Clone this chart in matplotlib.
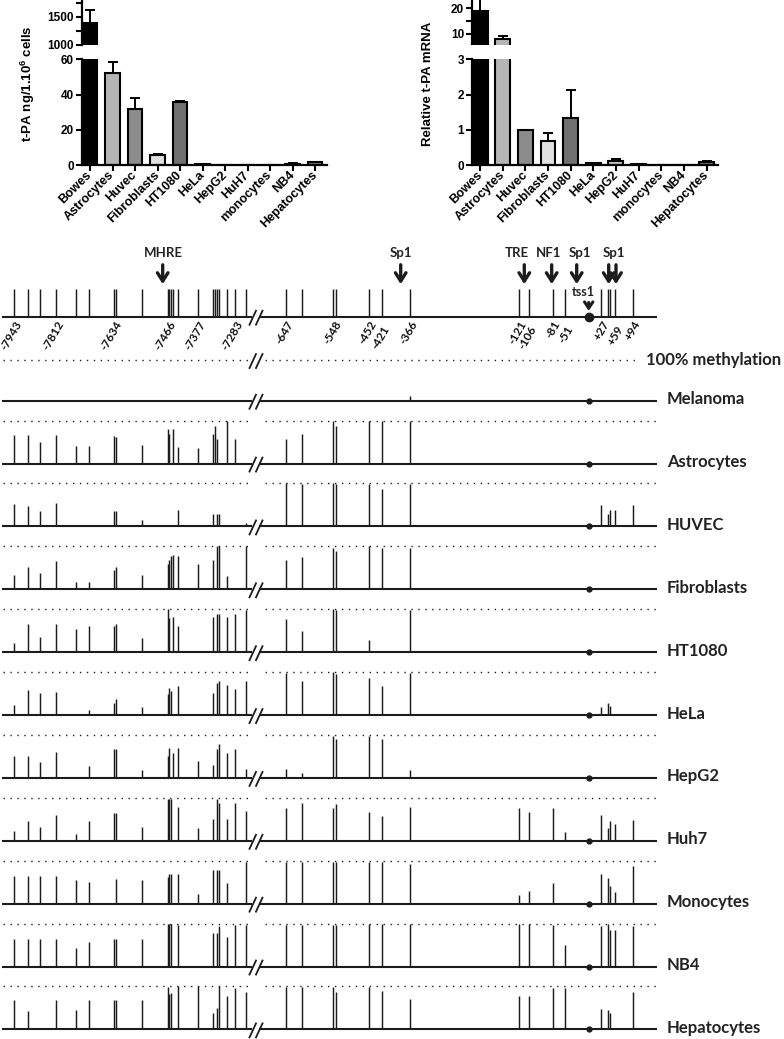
import matplotlib
matplotlib.use("Agg")
import matplotlib.pyplot as plt
import numpy as np

W, H = 784, 1039
INK = "#1c1c1c"

plt.rcParams["font.family"] = ["Liberation Sans", "DejaVu Sans"]
plt.rcParams["mathtext.fontset"] = "custom"
plt.rcParams["mathtext.bf"] = "Liberation Sans:bold"
plt.rcParams["mathtext.default"] = "bf"

# ---- bar chart data (top panels) ----
cell_lines = ["Bowes", "Astrocytes", "Huvec", "Fibroblasts", "HT1080", "HeLa",
              "HepG2", "HuH7", "monocytes", "NB4", "Hepatocytes"]
protein = [1390, 52.4, 31.6, 5.7, 36.0, 0.5, 0.0, 0.0, 0.0, 0.8, 1.5]
protein_err = [230, 6.3, 6.3, 0.6, 0.5, 0.2, 0, 0, 0, 0.2, 0.3]
mrna = [19.1, 8.1, 1.0, 0.67, 1.33, 0.05, 0.12, 0.02, 0.0, 0.0, 0.08]
mrna_err = [4.5, 1.0, 0.0, 0.25, 0.8, 0.02, 0.06, 0.0, 0.0, 0.0, 0.03]
bar_colors = ["#000000", "#b5b5b5", "#8c8c8c", "#e0e0e0", "#707070", "#a0a0a0",
              "#c8c8c8", "#ffffff", "#ffffff", "#909090", "#808080"]

# ---- CpG map data ----
# schematic x position of every CpG site (left block | right block)
site_x = np.array([14.3, 27.7, 40, 56, 76, 89.3, 113.7, 116.3, 142.3, 167.7, 169.3,
                   171, 172.7, 177.7, 198, 213.3, 215.3, 217, 218.7, 226.7, 235.3, 245.7,
                   286, 301.7, 333.3, 336, 369, 381.7, 410, 518.7, 528.7, 552.7, 565,
                   601, 607.7, 609.7, 615.3, 632.7])
tss_x = 588.7
pos_labels = ["-7943", "-7812", "-7634", "-7466", "-7377", "-7283", "-647", "-548",
              "-452", "-421", "-366", "-121", "-106", "-81", "-51", "+27", "+59", "+94"]
pos_label_sites = [0, 3, 6, 9, 14, 20, 22, 24, 26, 27, 28, 29, 30, 31, 32, 33, 36, 37]
motif_arrows = [162.7, 400.7, 524.3, 551.7, 576.7, 608.7, 616.0]
motif_names = ["MHRE", "Sp1", "TRE", "NF1", "Sp1", "Sp1"]
motif_name_x = [163.8, 400.5, 517, 549, 580, 614]

row_names = ["Melanoma", "Astrocytes", "HUVEC", "Fibroblasts", "HT1080", "HeLa",
             "HepG2", "Huh7", "Monocytes", "NB4", "Hepatocytes"]

# methylation fraction per site (0..1)
meth_melanoma = [0] * 28 + [0.1] + [0] * 9
meth_astrocytes = [0.66, 0.66, 0.51, 0.66, 0.40, 0.40, 0.64, 0.61, 0.43, 0.80, 0.69,
                   0, 0.80, 0.39, 0.37, 0.68, 0.87, 0.58, 0, 0.98, 0.58, 0,
                   0.58, 0.69, 1.0, 0.87, 1.0, 1.0, 1.0, 0, 0, 0, 0, 0, 0, 0, 0, 0]
meth_huvec = [0.53, 0.48, 0.37, 0.54, 0, 0, 0.35, 0.35, 0.14, 0, 0,
              0, 0, 0.39, 0, 0.29, 0, 0.30, 0.28, 0, 0, 0.07,
              1.0, 0.98, 1.0, 0.98, 0.98, 0.88, 0.98, 0, 0, 0, 0, 0.49, 0.30, 0.38, 0.39, 0.49]
meth_fibroblasts = [0.33, 0.51, 0.39, 0.65, 0.18, 0.18, 0.44, 0.53, 0.33, 0.59, 0.68,
                    0.78, 0.80, 0.78, 0.59, 0.68, 0, 1.0, 1.0, 0.30, 0, 1.0,
                    0.68, 0.76, 0.95, 0.90, 1.0, 0.97, 0.97, 0, 0, 0, 0, 0, 0, 0, 0, 0]
meth_ht1080 = [0.22, 0.66, 0.36, 0.66, 0.55, 0.62, 0.62, 0.66, 0.33, 1.0, 0.80,
               0, 0.81, 0.62, 0, 0.81, 0, 0.89, 0.89, 0.81, 0.89, 0.98,
               0.78, 0.50, 1.0, 0.98, 0.29, 0, 0.98, 0, 0, 0, 0, 0, 0, 0, 0, 0]
meth_hela = [0.24, 0.58, 0.52, 0.54, 0, 0.12, 0.29, 0.38, 0.18, 0.50, 0.64,
             0.56, 0, 0.68, 0, 0.51, 0, 0.74, 0.79, 0.70, 0.60, 0.79,
             0.97, 0.79, 1.0, 0.96, 0.87, 0.68, 0.98, 0, 0, 0, 0, 0.19, 0.29, 0.21, 0, 0]
meth_hepg2 = [0.51, 0.51, 0.38, 0.60, 0, 0.28, 0.67, 0.67, 0.19, 0.50, 0.70,
              0, 0.59, 0.70, 0.39, 0.30, 0, 0.68, 0.80, 0.59, 0.68, 0.21,
              0.21, 0.11, 0.98, 0.90, 0.98, 0.90, 0.19, 0, 0, 0, 0, 0, 0, 0, 0, 0]
meth_huh7 = [0.22, 0.46, 0.33, 0.59, 0.16, 0.45, 0.65, 0.65, 0.31, 0.98, 0.98,
             0.98, 0, 0.79, 0.29, 0.50, 0, 0.97, 0.89, 0.50, 0.88, 0.69,
             0.76, 0.87, 0.76, 0.86, 0.68, 0.58, 0.79, 0.77, 0.68, 0.77, 0.20,
             0.59, 0.29, 0.47, 0.38, 0.49]
meth_monocytes = [0.64, 0.64, 0.64, 0.64, 0.55, 0.50, 0, 0.58, 0.55, 0.61, 0.70,
                  0.70, 0, 0.70, 0.22, 0.79, 0, 0.79, 0.79, 0.48, 0, 0.98,
                  0.97, 0.97, 0.97, 0.97, 0.98, 0.98, 0.92, 0.20, 0.30, 0.49, 0,
                  0.70, 0.60, 0.41, 0.28, 0.88]
meth_nb4 = [0.63, 0.63, 0.63, 0.63, 0.42, 0.56, 0.63, 0.63, 0.63, 0.99, 0.99,
            0.99, 0, 0.96, 0, 0.78, 0, 0.78, 0.94, 0.68, 0.96, 0.97,
            0.97, 0.97, 0.97, 0.97, 0.99, 0.99, 0.99, 0.99, 0.99, 0.96, 0.50,
            0.95, 1.0, 0.86, 0.86, 0.94]
meth_hepatocytes = [0.68, 0.42, 0, 0.68, 0.45, 0.68, 0.68, 0.68, 0.68, 0.98, 0.82,
                    0.85, 0, 1.0, 1.0, 0.38, 0, 0.49, 1.0, 0.78, 0.97, 0.86,
                    0.98, 0.98, 0.98, 0.86, 0.98, 0.89, 0.70, 0.78, 0.78, 0.97, 0.97,
                    0.48, 0.46, 0.38, 0, 0.88]

meth_rows = [meth_melanoma, meth_astrocytes, meth_huvec, meth_fibroblasts, meth_ht1080,
             meth_hela, meth_hepg2, meth_huh7, meth_monocytes, meth_nb4, meth_hepatocytes]


def px_rect(l, t, r, b):
    return [l / W, 1 - b / H, (r - l) / W, (b - t) / H]


fig = plt.figure(figsize=(W / 100, H / 100), dpi=100)

# ================= CpG methylation map =================
ax = fig.add_axes([0, 0, 1, 1], zorder=0)
ax.set_xlim(0, W)
ax.set_ylim(H, 0)
ax.axis("off")

MAP_FONT = ["Lato", "DejaVu Sans"]
BREAK_L, BREAK_R = 252, 259
LINE_END = 657
TICK_LW = 1.05


def slashes(y):
    for dx in (0, 6.5):
        ax.plot([249.5 + dx, 256 + dx], [y + 8, y - 6], color=INK, lw=1.3)


def axis_line(y):
    ax.plot([2, BREAK_L], [y, y], color=INK, lw=1.5, solid_capstyle="butt")
    ax.plot([BREAK_R, LINE_END], [y, y], color=INK, lw=1.5, solid_capstyle="butt")
    slashes(y)


def dotted(y, right=660, breaks=False):
    kw = dict(color=INK, lw=1.0, ls=(0, (1, 4)))
    ax.plot([3, BREAK_L], [y, y], **kw)
    ax.plot([265, right], [y, y], **kw)
    if breaks:
        slashes(y)


# schematic row
sch_y = 316.7
axis_line(sch_y)
ax.vlines(site_x, sch_y - 28, sch_y, color=INK, lw=TICK_LW)
ax.plot([tss_x], [sch_y], "o", color=INK, ms=6)
ax.annotate("", xy=(tss_x, sch_y - 3), xytext=(tss_x, sch_y - 17),
            arrowprops=dict(arrowstyle="->,head_length=0.45,head_width=0.3", lw=2.2, color=INK))
ax.text(tss_x - 5, 292.5, "tss1", ha="center", va="center", fontsize=9,
        fontweight="bold", family=MAP_FONT, color="#222222")

for x in motif_arrows:
    ax.annotate("", xy=(x, 287), xytext=(x, 262),
                arrowprops=dict(arrowstyle="->,head_length=0.6,head_width=0.38",
                                lw=2.4, color=INK))
for name, x in zip(motif_names, motif_name_x):
    ax.text(x, 253, name, ha="center", va="center", fontsize=9.5,
            fontweight="bold", family=MAP_FONT, color="#222222")

prev = -100
for lab, idx in zip(pos_labels, pos_label_sites):
    x = site_x[idx]
    drop = 5 if x - prev < 15 else 0
    ax.text(x + 10, 319 + drop, lab, rotation=60, ha="right", va="top",
            fontsize=8.6, fontweight="bold", family=MAP_FONT, color="#111111")
    prev = x

# 100% methylation reference
dotted(360, right=637, breaks=True)
ax.text(645.7, 360, "100% methylation", ha="left", va="center", fontsize=12,
        fontweight="bold", family=MAP_FONT, color="#222222")

row0, row_step, full = 400.7, 62.87, 43
for i, (name, vals) in enumerate(zip(row_names, meth_rows)):
    base = row0 + i * row_step
    vals = np.asarray(vals, dtype=float)
    if i > 0:
        dotted(base - full)
    axis_line(base)
    m = vals > 0
    ax.vlines(site_x[m], base - vals[m] * full, base, color=INK, lw=TICK_LW)
    ax.plot([tss_x], [base], "o", color=INK, ms=3.5)
    ax.text(666.7, base - 1.5, name, ha="left", va="center", fontsize=12,
            fontweight="bold", family=MAP_FONT, color="#222222")

# ================= bar charts =================
pos = np.arange(len(cell_lines))


def bar_panel(x0, x1, values, errors, hi_lim, hi_major, hi_minor, lo_lim, lo_major,
              ylabel, label_x):
    values = np.asarray(values, dtype=float)
    errors = np.asarray(errors, dtype=float)
    ax_hi = fig.add_axes(px_rect(x0, 0, x1, 44.5), zorder=2)
    ax_lo = fig.add_axes(px_rect(x0, 59.3, x1, 165), zorder=2)
    for a in (ax_hi, ax_lo):
        a.patch.set_alpha(0)
        e = errors > 0
        a.errorbar(pos[e], values[e], yerr=[np.zeros(e.sum()), errors[e]], fmt="none",
                   ecolor="black", elinewidth=1.4, capsize=3.6, capthick=1.4, zorder=1)
        a.bar(pos, values, width=0.66, color=bar_colors, edgecolor="black",
              linewidth=1.5, zorder=2)
        a.set_xlim(-0.37, 10.52)
        a.spines["top"].set_visible(False)
        a.spines["right"].set_visible(False)
        a.spines["left"].set_linewidth(1.6)
        a.spines["bottom"].set_linewidth(1.6)
        a.tick_params(axis="y", width=1.5, length=4, pad=1.5)
        a.tick_params(axis="y", which="minor", width=1.5, length=4)
    ax_hi.set_ylim(*hi_lim)
    ax_hi.spines["bottom"].set_visible(False)
    ax_hi.set_xticks([])
    ax_hi.set_yticks(hi_major)
    ax_hi.set_yticks(hi_minor, minor=True)
    ax_hi.set_yticklabels([str(v) for v in hi_major], fontweight="bold", fontsize=8.5)
    ax_lo.set_ylim(*lo_lim)
    ax_lo.set_yticks(lo_major)
    ax_lo.set_yticklabels([str(v) for v in lo_major], fontweight="bold", fontsize=8.5)
    ax_lo.set_xticks(pos)
    ax_lo.set_xticklabels(cell_lines, rotation=45, ha="right", va="center",
                          rotation_mode="anchor", fontsize=9, fontweight="bold")
    ax_lo.tick_params(axis="x", width=1.5, length=4, pad=2)
    fig.text(label_x / W, 1 - 84 / H, ylabel, rotation=90, ha="center", va="center",
             fontsize=9.5, fontweight="bold")


bar_panel(81.7, 326.7, protein, protein_err, (1000, 1800), [1000, 1500], [1250, 1750],
          (0, 60), [0, 20, 40, 60], r"t-PA ng/1.10$^{6}$ cells", 28)
bar_panel(471.7, 718.3, mrna, mrna_err, (5.9, 23.2), [10, 20], [15],
          (0, 3), [0, 1, 2, 3], "Relative t-PA mRNA", 428)

fig.savefig("out.png", dpi=100)
